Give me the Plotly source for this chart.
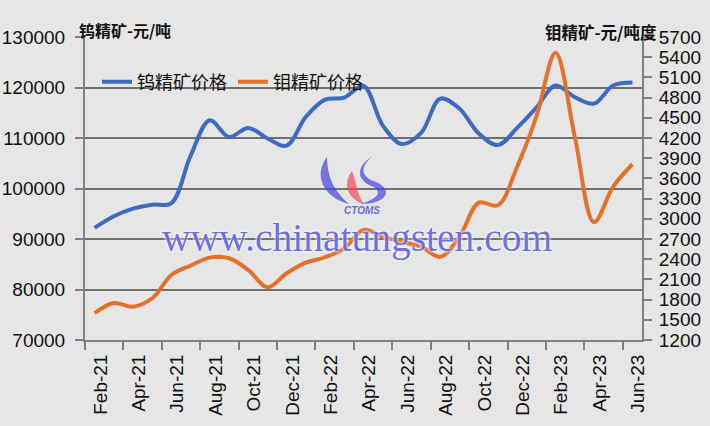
import plotly.graph_objects as go

months = ["Feb-21", "Mar-21", "Apr-21", "May-21", "Jun-21", "Jul-21", "Aug-21", "Sep-21",
          "Oct-21", "Nov-21", "Dec-21", "Jan-22", "Feb-22", "Mar-22", "Apr-22", "May-22",
          "Jun-22", "Jul-22", "Aug-22", "Sep-22", "Oct-22", "Nov-22", "Dec-22", "Jan-23",
          "Feb-23", "Mar-23", "Apr-23", "May-23", "Jun-23"]

tungsten = [92200, 94500, 96000, 96800, 97100, 106500, 113500, 110200,
            112000, 109900, 108500, 114200, 117600, 118000, 120300, 112500,
            108800, 111000, 117800, 115800, 110900, 108600, 112000, 116000,
            120400, 118100, 116800, 120400, 121000]

molybdenum = [1600, 1750, 1695, 1820, 2166, 2304, 2423, 2414,
              2240, 1983, 2191, 2348, 2429, 2562, 2834, 2735,
              2660, 2586, 2435, 2735, 3240, 3200, 3774, 4517,
              5467, 4220, 2950, 3477, 3810]

series_names = ["钨精矿价格", "钼精矿价格"]
left_title = "钨精矿-元/吨"
right_title = "钼精矿-元/吨度"
watermark = "www.chinatungsten.com"

FONT = "Liberation Sans, Arial, Noto Sans CJK SC, sans-serif"
CJK = "Noto Sans CJK SC, sans-serif"
BG = "#e6e6e6"
BLUE = "#3e6bc1"
ORANGE = "#e3712a"

x_idx = list(range(len(months)))

fig = go.Figure()
fig.add_trace(go.Scatter(x=x_idx, y=tungsten, name=series_names[0], mode="lines",
                         line=dict(color=BLUE, width=4, shape="spline", smoothing=1.0),
                         yaxis="y"))
fig.add_trace(go.Scatter(x=x_idx, y=molybdenum, name=series_names[1], mode="lines",
                         line=dict(color=ORANGE, width=4, shape="spline", smoothing=1.0),
                         yaxis="y2"))

# plot area pixel geometry
L, R, T, B = 85, 642, 37, 340
W, H = 710, 426


def px(x):
    return (x - L) / (R - L)


def py(y):
    return (B - y) / (B - T)


def path(segs):
    out = []
    for cmd, pts in segs:
        s = cmd
        s += " ".join(f"{px(a):.4f},{py(b):.4f}" for a, b in pts)
        out.append(s)
    return " ".join(out) + " Z"


logo_blue = "rgba(70,70,225,0.72)"
logo_red = "rgba(240,80,90,0.72)"
shapes = [
    dict(type="path", xref="paper", yref="paper", layer="above", line=dict(width=0),
         fillcolor=logo_blue,
         path=path([("M", [(327, 157)]), ("C", [(313, 175), (323, 197), (349, 204)]),
                    ("C", [(335, 192), (327, 178), (327, 157)])])),
    dict(type="path", xref="paper", yref="paper", layer="above", line=dict(width=0),
         fillcolor=logo_red,
         path=path([("M", [(352, 171)]), ("C", [(343, 182), (346, 199), (364, 204)]),
                    ("C", [(357, 195), (357, 183), (352, 171)])])),
    dict(type="path", xref="paper", yref="paper", layer="above", line=dict(width=0),
         fillcolor=logo_blue,
         path=path([("M", [(373, 156)]), ("C", [(359, 167), (361, 177), (376, 182)]),
                    ("C", [(394, 190), (387, 204), (360, 204)]),
                    ("C", [(381, 198), (383, 190), (369, 185)]),
                    ("C", [(355, 177), (358, 165), (373, 156)])])),
]

annotations = [
    dict(text=f"<b>{left_title}</b>", xref="paper", yref="paper", x=px(77), y=py(30),
         xanchor="left", yanchor="middle", showarrow=False,
         font=dict(family=CJK, size=16, color="#111111")),
    dict(text=f"<b>{right_title}</b>", xref="paper", yref="paper", x=px(659), y=py(32),
         xanchor="right", yanchor="middle", showarrow=False,
         font=dict(family=CJK, size=16.5, color="#111111")),
    dict(text="<b><i>CTOMS</i></b>", xref="paper", yref="paper", x=px(362), y=py(210),
         xanchor="center", yanchor="middle", showarrow=False,
         font=dict(family="Liberation Sans, Arial", size=10, color="rgba(70,70,225,0.8)")),
    dict(text=watermark, xref="paper", yref="paper", x=px(357), y=py(238),
         xanchor="center", yanchor="middle", showarrow=False,
         font=dict(family="Liberation Serif, Times New Roman, serif", size=39.5,
                   color="rgba(85,85,230,0.85)",
                   shadow="0px 0px 3px white, 0px 0px 3px white")),
]

fig.update_layout(
    width=W, height=H,
    margin=dict(l=L, r=W - R, t=T, b=H - B, autoexpand=False),
    paper_bgcolor=BG, plot_bgcolor=BG,
    font=dict(family=FONT, size=19, color="#111111"),
    showlegend=True,
    legend=dict(orientation="h", x=px(97), y=py(82), xanchor="left", yanchor="middle",
                bgcolor="rgba(0,0,0,0)", font=dict(family=CJK, size=18, color="#111111"),
                entrywidth=91, entrywidthmode="pixels", itemwidth=30),
    xaxis=dict(
        range=[-0.5, len(months) - 0.5],
        tickmode="array", tickvals=[i + 0.3 for i in x_idx[::2]], ticktext=months[::2],
        tickangle=-90, ticks="", showgrid=False, zeroline=False,
        showline=True, linecolor="#808080", linewidth=2,
        ticklabelstandoff=5,
        tickfont=dict(family=FONT, size=19, color="#111111"),
        minor=dict(tickmode="array", tickvals=[i - 0.5 for i in x_idx[::2]],
                   ticks="outside", ticklen=8, tickwidth=2, tickcolor="#808080"),
    ),
    yaxis=dict(
        range=[70000, 130000], dtick=10000, tick0=70000, tickformat="d",
        showgrid=True, gridcolor="#707070", gridwidth=2, zeroline=False,
        showline=True, linecolor="#808080", linewidth=2,
        ticks="outside", ticklen=8, tickwidth=2, tickcolor="#808080",
        ticklabelstandoff=6,
        tickfont=dict(family=FONT, size=19, color="#111111"),
    ),
    yaxis2=dict(
        range=[1200, 5700], dtick=300, tick0=1200, overlaying="y", side="right",
        showgrid=False, zeroline=False,
        showline=True, linecolor="#808080", linewidth=2,
        ticks="outside", ticklen=8, tickwidth=2, tickcolor="#808080",
        ticklabelstandoff=3,
        tickfont=dict(family=FONT, size=19, color="#111111"),
    ),
    shapes=shapes,
    annotations=annotations,
)

fig.write_html("out.html", config={"displayModeBar": False},
               post_script="document.body.style.margin='0';")
